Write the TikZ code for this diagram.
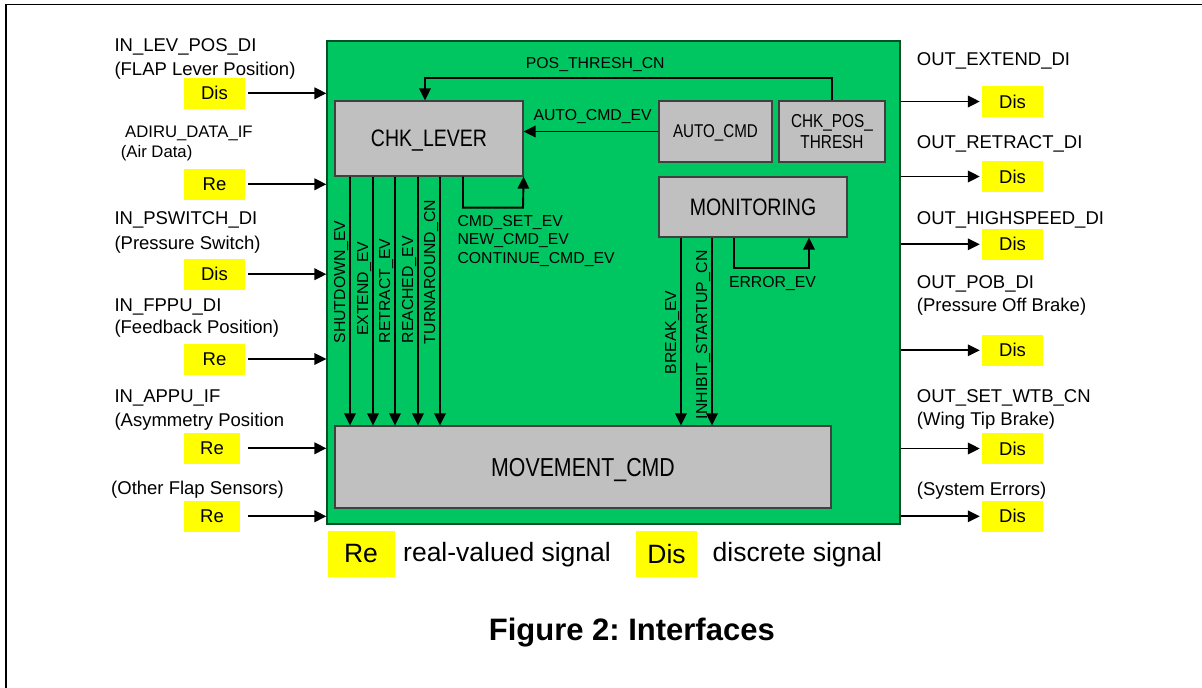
\documentclass[tikz,border=0pt]{standalone}
\usepackage{fontspec}
\setmainfont{Liberation Sans}
\newfontfamily\narrowfont[FakeStretch=0.82]{Liberation Sans}
\usetikzlibrary{arrows.meta}
\frenchspacing

\definecolor{flapgreen}{RGB}{0,198,98}
\definecolor{boxgray}{RGB}{192,192,192}
\definecolor{sigyellow}{RGB}{255,255,0}

\newcommand\fsig{\fontsize{18.5}{22}\selectfont}
\newcommand\fsmall{\fontsize{16.7}{20}\selectfont}
\newcommand\fevt{\fontsize{15.8}{19}\selectfont}
\newcommand\flegend{\fontsize{26.5}{30}\selectfont}

\begin{document}
\begin{tikzpicture}[x=1pt,y=-1pt,
        lbl/.style={anchor=base west,inner sep=0pt,font=\fsig},
        sigbox/.style={fill=sigyellow,minimum width=61pt,minimum height=31pt,inner sep=0pt,font=\fsig},
        unit/.style={draw=black!75,line width=1.2pt,fill=boxgray,inner sep=0pt},
        unitone/.style={unit,text depth=0pt},
        evt/.style={anchor=base west,inner sep=0pt,font=\fevt},
        vevt/.style={evt,rotate=90},
        sig/.style={-{Triangle[length=12pt,width=11.5pt]},line width=1.9pt}]

        \useasboundingbox (0,0) rectangle (1202,688);
        \draw[line width=1.7pt] (6,688) -- (6,4.5) -- (1202,4.5);

        % the component and its units
        \node (Bflap)     at (613.5,282.5) [draw=black!60!flapgreen,line width=1.2pt,fill=flapgreen,minimum width=573pt,minimum height=483pt] {};
        \node (Cchklever) at (429,138.5)   [unitone,minimum width=188pt,minimum height=75pt,font=\narrowfont\fontsize{23.8}{26}\selectfont] {CHK\_LEVER};
        \node (Cautocmd)  at (715.5,131.5) [unitone,minimum width=113pt,minimum height=61pt,font=\narrowfont\fontsize{18.5}{21}\selectfont] {AUTO\_CMD};
        \node (Cchkpos)   at (832,131.5)   [unit,minimum width=106pt,minimum height=61pt,align=center,font=\narrowfont\fontsize{18.7}{21}\selectfont] {CHK\_POS\_\\THRESH};
        \node (Cmonitor)  at (753,207)     [unitone,minimum width=188pt,minimum height=60pt,font=\narrowfont\fontsize{23.8}{26}\selectfont] {MONITORING};
        \node (Cmovement) at (583,467)     [unitone,minimum width=496pt,minimum height=82pt,font=\narrowfont\fontsize{26}{29}\selectfont] {MOVEMENT\_CMD};

        % inputs
        \node (Ilevpos)  at (214.5,93.3)  [sigbox] {Dis};
        \node (Iadiru)   at (214.5,184.3) [sigbox] {Re};
        \node (Ipswitch) at (214.5,274.2) [sigbox] {Dis};
        \node (Ifppu)    at (214.5,359)   [sigbox] {Re};
        \node (Iappu)    at (212,448.3)   [sigbox,minimum width=56pt] {Re};
        \node (Iother)   at (212,516.3)   [sigbox,minimum width=56pt] {Re};

        \node (Tlevpos)   at (114.3,51)    [lbl] {IN\_LEV\_POS\_DI};
        \node (Tlevposd)  at (114.3,75.3)  [lbl] {(FLAP Lever Position)};
        \node (Tadiru)    at (125,137.7)   [lbl,font=\fsmall] {ADIRU\_DATA\_IF};
        \node (Tadirud)   at (120.7,157.3) [lbl,font=\fsmall] {(Air Data)};
        \node (Tpswitch)  at (114.3,224.3) [lbl] {IN\_PSWITCH\_DI};
        \node (Tpswitchd) at (114.3,249.3) [lbl] {(Pressure Switch)};
        \node (Tfppu)     at (114.3,311.3) [lbl] {IN\_FPPU\_DI};
        \node (Tfppud)    at (114.3,333.3) [lbl] {(Feedback Position)};
        \node (Tappu)     at (114.3,402)   [lbl] {IN\_APPU\_IF};
        \node (Tappud)    at (114.3,426)   [lbl] {(Asymmetry Position};
        \node (Tother)    at (111,494.7)   [lbl] {(Other Flap Sensors)};

        % outputs
        \node (Oextend)    at (1012.5,101.5) [sigbox] {Dis};
        \node (Oretract)   at (1012.5,176.5) [sigbox] {Dis};
        \node (Ohighspeed) at (1012.5,244.3) [sigbox] {Dis};
        \node (Opob)       at (1012.5,350.3) [sigbox] {Dis};
        \node (Osetwtb)    at (1012.5,448.5) [sigbox] {Dis};
        \node (Oerrors)    at (1012.5,516.3) [sigbox] {Dis};

        \node (Textend)    at (916.7,65.3)  [lbl] {OUT\_EXTEND\_DI};
        \node (Tretract)   at (916.7,148)   [lbl] {OUT\_RETRACT\_DI};
        \node (Thighspeed) at (916.7,224)   [lbl] {OUT\_HIGHSPEED\_DI};
        \node (Tpob)       at (916.7,288.7) [lbl] {OUT\_POB\_DI};
        \node (Tpobd)      at (916.7,311.7) [lbl] {(Pressure Off Brake)};
        \node (Tsetwtb)    at (916.7,402)   [lbl] {OUT\_SET\_WTB\_CN};
        \node (Tsetwtbd)   at (916.7,425.7) [lbl] {(Wing Tip Brake)};
        \node (Terrors)    at (916.7,495.3) [lbl] {(System Errors)};

        % Signals in and out of the component
        \foreach \n in {Ilevpos,Iadiru,Ipswitch,Ifppu,Iappu,Iother}
            \draw[sig,shorten <=3pt] (\n -| Ilevpos.east) -- (\n -| Bflap.west);
        \foreach \n in {Oextend,Oretract,Ohighspeed,Opob,Osetwtb,Oerrors}
            \draw[sig,shorten >=2pt] (\n -| Bflap.east) -- (\n.west);

        % Events between the units
        \draw[sig] (Cchkpos.north) -- ++(0,-22) -| ([xshift=-4pt]Cchklever.north);
        \node (Lpos) at (525.7,68.3) [evt] {POS\_THRESH\_CN};
        \draw[sig] (Cautocmd.west) -- (Cautocmd.west -| Cchklever.east);
        \node (Lauto) at (533.3,120.3) [evt] {AUTO\_CMD\_EV};
        \draw[sig] (Cchklever.south) ++(34,0) |- ++(60,31) -- (Cchklever.south east);
        \node (Lcmdset)  at (457.3,226.3) [evt] {CMD\_SET\_EV};
        \node (Lnewcmd)  at (457.3,244.5) [evt] {NEW\_CMD\_EV};
        \node (Lcontcmd) at (457.3,263)   [evt] {CONTINUE\_CMD\_EV};
        \draw[sig] (Cmonitor.south) ++(-19,0) |- ++(75,30) -- ++(0,-30);
        \node (Lerror) at (728.8,287.3) [evt] {ERROR\_EV};

        \foreach \x/\b/\t in {350/344.3/SHUTDOWN\_EV,373/336.7/EXTEND\_EV,395/344/RETRACT\_EV,418/344.3/REACHED\_EV,440/345/TURNAROUND\_CN}
            \draw[sig] (\x,0 |- Cchklever.south) -- (\x,0 |- Cmovement.north)
                node (E\x) at (\x-5,\b) [vevt] {\t};
        \foreach \x/\b/\t in {681/375/BREAK\_EV,712/420/INHIBIT\_STARTUP\_CN}
            \draw[sig] (\x,0 |- Cmonitor.south) -- (\x,0 |- Cmovement.north)
                node (E\x) at (\x-5,\b) [vevt] {\t};

        % legend and caption
        \node (Lre)  at (361,554)   [sigbox,minimum width=67pt,minimum height=46pt,font=\flegend] {Re};
        \node (Tre)  at (403,561.7) [lbl,font=\flegend] {real-valued signal};
        \node (Ldis) at (666.5,554) [sigbox,minimum width=61pt,minimum height=46pt,font=\flegend] {Dis};
        \node (Tdis) at (712.5,561.7) [lbl,font=\flegend] {discrete signal};
        \node (Tcaption) at (631.8,640.7) [anchor=base,inner sep=0pt,font=\bfseries\fontsize{31}{36}\selectfont] {Figure 2: Interfaces};
\end{tikzpicture}
\end{document}
